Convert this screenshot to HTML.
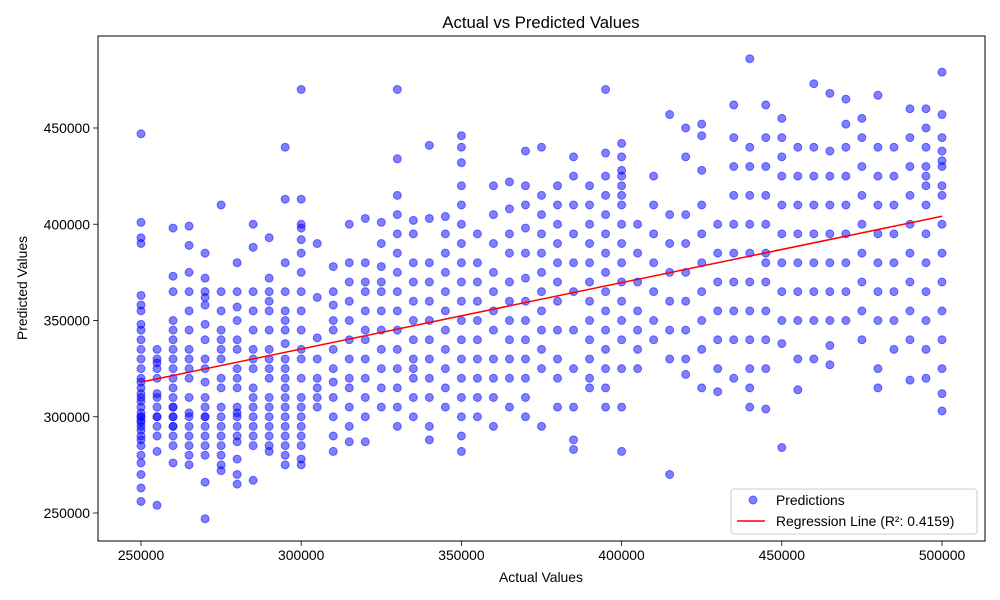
<!DOCTYPE html>
<html><head><meta charset="utf-8"><style>
html,body{margin:0;padding:0;background:#fff;}
svg{display:block;font-family:"Liberation Sans","DejaVu Sans",sans-serif;}
</style></head><body>
<svg id="chart" width="1000" height="600" viewBox="0 0 1000 600" xmlns="http://www.w3.org/2000/svg">
<rect width="1000" height="600" fill="#fff"/>
<text x="541" y="28" font-size="16.7" text-anchor="middle">Actual vs Predicted Values</text>
<g id="plot"></g>
<text x="541" y="582" font-size="13.9" text-anchor="middle">Actual Values</text>
<text x="27" y="288" font-size="13.9" text-anchor="middle" transform="rotate(-90 27 288)">Predicted Values</text>
</svg>
<script>
const columnX = [250,255,260,265,270,275,280,285,290,295,300,305,310,315,320,325,330,335,340,345,350,355,360,365,370,375,380,385,390,395,400,405,410,415,420,425,430,435,440,445,450,455,460,465,470,475,480,485,490,495,500];
const columnY = [
[447,401,393,390,363,358,348,340,335,330,325,320,315,310,305,300,297,293,288,285,280,276,270,263,256,355,345,300,295,290,318,312,308,302,298],
[335,330,328,320,310,305,300,295,290,282,254,325,300,312],
[398,373,350,345,340,330,325,320,315,310,305,300,295,290,285,276,365,335,305,300,295],
[399,389,375,365,355,345,335,330,320,310,300,295,290,285,280,275,325,302],
[385,372,365,358,348,340,330,325,318,310,305,300,295,290,285,280,266,247,362,300],
[410,365,355,345,340,330,320,315,305,300,295,290,285,280,275,272,335],
[380,365,357,350,340,335,325,320,315,305,300,295,290,287,278,270,265,302],
[400,388,365,355,345,335,330,325,315,310,305,300,295,290,285,267],
[393,372,365,360,355,345,335,330,325,320,310,305,300,295,290,285,282],
[440,413,380,365,355,345,338,330,325,320,315,310,305,300,295,290,285,280,275,350],
[470,413,400,398,392,385,375,365,355,345,335,330,320,310,305,300,295,290,285,278,275],
[390,362,341,330,320,315,310,305],
[378,365,358,350,345,335,325,318,310,300,290,282],
[400,380,370,360,350,340,330,320,315,305,295,287],
[403,380,370,365,355,345,340,330,320,310,300,287],
[401,390,378,370,365,355,345,335,325,315,305],
[470,434,415,405,395,385,375,365,355,345,335,325,315,305,295],
[402,395,380,370,360,350,340,330,325,320,310,300],
[441,403,380,370,360,350,340,330,320,310,295,288],
[404,395,385,375,365,355,345,335,325,315,305],
[446,432,420,410,400,390,380,370,360,350,340,330,320,310,300,290,282,440],
[395,380,370,360,350,340,330,320,310,300],
[420,405,390,375,365,355,345,330,320,310,295],
[422,408,395,385,370,360,350,340,330,320,305],
[438,420,410,398,385,372,360,350,340,330,320,310,300],
[440,415,405,395,385,375,365,355,345,335,325,295],
[420,410,400,390,380,370,360,345,330,320,305],
[435,425,410,395,380,365,345,325,305,288,283],
[420,410,400,390,380,370,360,350,340,330,320,315],
[470,437,425,415,405,395,385,375,365,355,345,335,325,315,305],
[442,435,428,420,410,400,390,380,370,360,350,340,325,305,282,425,415],
[400,385,370,355,345,335,325],
[425,410,395,380,365,350,340],
[457,405,390,375,360,345,330,270],
[450,435,405,390,375,360,345,330,322],
[452,446,428,410,395,380,365,350,335,315],
[400,385,370,355,340,325,313],
[462,445,430,415,400,385,370,355,340,320],
[486,440,430,415,400,385,370,355,340,325,305,315],
[462,445,430,415,400,385,370,355,340,325,304,380],
[455,445,435,425,410,395,380,365,350,338,284],
[440,425,410,395,380,365,350,330,314],
[473,440,425,410,395,380,365,350,330],
[468,438,425,410,395,380,365,350,337,327],
[465,452,440,425,410,395,380,365,350],
[455,445,430,415,400,385,370,355,340],
[467,440,425,410,395,380,365,350,325,315],
[440,425,410,395,380,365,350,335],
[460,445,430,415,400,385,370,355,340,319],
[460,450,440,425,410,395,380,365,350,335,320,430,420],
[479,457,445,430,415,400,385,370,355,340,325,312,303,438,433,420]
];
const xTicks = [250000,300000,350000,400000,450000,500000];
const yTicks = [250000,300000,350000,400000,450000];
const r2Label = "Regression Line (R²: 0.4159)";

const NS = "http://www.w3.org/2000/svg";
const L=98,R=985,T=36,B=541;
function xs(v){return 141 + (v-250000)*(942-141)/250000;}
function ys(v){return 513 - (v-250000)*(513-128)/200000;}
const g=document.getElementById('plot');
function el(t,a,p){const e=document.createElementNS(NS,t);for(const k in a)e.setAttribute(k,a[k]);(p||g).appendChild(e);return e;}

const px=[],py=[];
columnX.forEach((cx,i)=>{columnY[i].forEach(v=>{px.push(cx*1000);py.push(v*1000);});});
const pts=el('g',{});


for(let i=0;i<px.length;i++){
  const c=el('circle',{cx:xs(px[i]),cy:ys(py[i]),r:4,fill:'rgba(0,0,255,0.5)',stroke:'rgba(0,0,255,0.5)','stroke-width':1},pts);
  
  
}
const n=px.length;let mx=0,my=0;for(let i=0;i<n;i++){mx+=px[i];my+=py[i];}mx/=n;my/=n;
let sxy=0,sxx=0;for(let i=0;i<n;i++){sxy+=(px[i]-mx)*(py[i]-my);sxx+=(px[i]-mx)**2;}
const slope=sxy/sxx,icp=my-slope*mx;
const x0=Math.min(...px),x1=Math.max(...px);
const rl=el('line',{x1:xs(x0),y1:ys(icp+slope*x0),x2:xs(x1),y2:ys(icp+slope*x1),stroke:'#ff0000','stroke-width':1.5});


const fr=el('rect',{x:L,y:T,width:R-L,height:B-T,fill:'none',stroke:'#000','stroke-width':1});


xTicks.forEach(t=>{
  const x=xs(t);
  el('line',{x1:x,y1:B,x2:x,y2:B+4.9,stroke:'#000','stroke-width':0.8});
  const tx=el('text',{x:x,y:B+19,'font-size':13.9,'text-anchor':'middle'});tx.textContent=t;
  
  
});
yTicks.forEach(t=>{
  const y=ys(t);
  el('line',{x1:L-4.9,y1:y,x2:L,y2:y,stroke:'#000','stroke-width':0.8});
  const tx=el('text',{x:L-8,y:y+5,'font-size':13.9,'text-anchor':'end'});tx.textContent=t;
  
  
});
const lg=el('g',{});


el('rect',{x:731,y:489,width:246,height:45,rx:3,fill:'rgba(255,255,255,0.8)',stroke:'#ccc'},lg);
el('circle',{cx:753,cy:500,r:4,fill:'rgba(0,0,255,0.5)',stroke:'rgba(0,0,255,0.5)'},lg);
const t1=el('text',{x:776,y:505,'font-size':13.9},lg);t1.textContent='Predictions';


el('line',{x1:737,y1:521,x2:765,y2:521,stroke:'#ff0000','stroke-width':1.5},lg);
const t2=el('text',{x:776,y:526,'font-size':13.9},lg);t2.textContent=r2Label;


</script>
</body></html>
